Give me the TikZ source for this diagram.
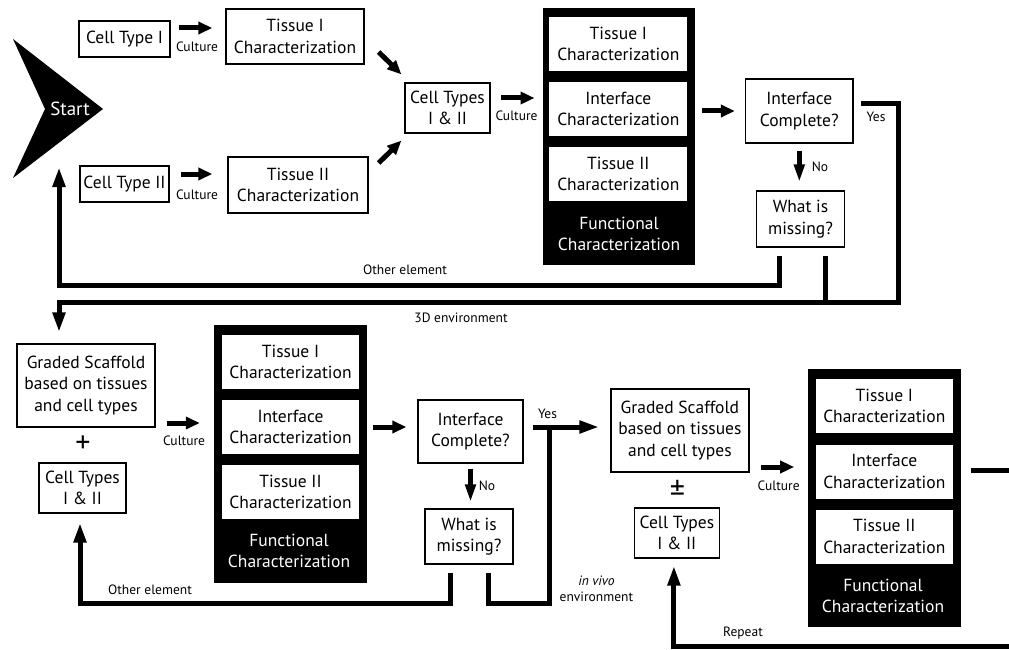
\documentclass[tikz,border=0pt]{standalone}
\usepackage{fontspec}
\setmainfont{PT Sans}
\usetikzlibrary{arrows.meta}
\newcommand\bigtxt{\fontsize{17.5}{21.5}\selectfont}
\newcommand\smtxt{\fontsize{13.5}{16.5}\selectfont}
\tikzset{
  box/.style={draw, line width=1.3pt, fill=white, inner sep=0pt, align=center, font=\bigtxt},
  inbox/.style={fill=white, inner sep=0pt, align=center, font=\bigtxt},
  blk/.style={fill=black, inner sep=0pt},
  ftxt/.style={text=white, align=center, font=\bigtxt},
  lbl/.style={font=\smtxt, inner sep=0pt, align=center},
  conn/.style={line width=5pt},
  sarr/.style={conn, -{Triangle[length=14pt,width=12pt]}},
  darr/.style={conn, -{Triangle[length=18pt,width=10pt]}},
  larr/.style={conn, -{Triangle[length=20pt,width=12pt]}},
}
\begin{document}
\begin{tikzpicture}[x=1pt,y=-1pt]
\useasboundingbox (0,0) rectangle (1009,650);
% Start chevron
\fill (13,39) -- (103,109) -- (13,178) -- (45,109) -- cycle;
\node[ftxt, font=\fontsize{19}{21}\selectfont] (start) at (70,109) {Start};
% Row 1 nodes
\node[box, minimum width=91pt, minimum height=36pt] (ct1) at (124.5,39) {Cell Type I};
\node[box, minimum width=138pt, minimum height=55pt] (t1) at (295,36.5) {Tissue I\\Characterization};
\node[box, minimum width=89pt, minimum height=36pt] (ct2) at (124.5,184) {Cell Type II};
\node[box, minimum width=140pt, minimum height=56pt] (t2) at (298,185) {Tissue II\\Characterization};
\node[box, minimum width=85pt, minimum height=50pt] (ct12) at (447.5,108) {Cell Types\\I \& II};
\node[blk, minimum width=152.6pt, minimum height=257pt] (fb1) at (619,136.5) {};
\node[inbox, minimum width=137.7pt, minimum height=54pt] (fb1a) at (618.3,44) {Tissue I\\Characterization};
\node[inbox, minimum width=137.7pt, minimum height=54pt] (fb1b) at (618.3,109) {Interface\\Characterization};
\node[inbox, minimum width=137.7pt, minimum height=54pt] (fb1c) at (618.3,174) {Tissue II\\Characterization};
\node[ftxt] (fb1d) at (619,234) {Functional\\Characterization};
\node[box, minimum width=107.6pt, minimum height=64pt] (ic1) at (799.3,111) {Interface\\Complete?};
\node[box, minimum width=88.4pt, minimum height=56pt] (wm1) at (800.5,219) {What is\\missing?};
% Row 2 nodes
\node[box, minimum width=138pt, minimum height=83pt] (gs1) at (86,385.5) {Graded Scaffold\\based on tissues\\and cell types};
\node[font=\fontsize{30}{30}\selectfont, inner sep=0pt] (plus) at (83,444) {+};
\node[box, minimum width=87pt, minimum height=50pt] (ct3) at (82.5,488) {Cell Types\\I \& II};
\node[blk, minimum width=153pt, minimum height=258pt] (fb2) at (290.5,454) {};
\node[inbox, minimum width=137pt, minimum height=54pt] (fb2a) at (290.5,362) {Tissue I\\Characterization};
\node[inbox, minimum width=137pt, minimum height=54pt] (fb2b) at (290.5,427) {Interface\\Characterization};
\node[inbox, minimum width=137pt, minimum height=54pt] (fb2c) at (290.5,492) {Tissue II\\Characterization};
\node[ftxt] (fb2d) at (289,551) {Functional\\Characterization};
\node[box, minimum width=105pt, minimum height=63pt] (ic2) at (470.5,431.5) {Interface\\Complete?};
\node[box, minimum width=88pt, minimum height=55pt] (wm2) at (469,536.5) {What is\\missing?};
\node[box, minimum width=138pt, minimum height=83pt] (gs2) at (679.9,430.5) {Graded Scaffold\\based on tissues\\and cell types};
\node[font=\fontsize{30}{30}\selectfont, inner sep=0pt] (pm) at (677.4,490) {±};
\node[box, minimum width=85.3pt, minimum height=50pt] (ct4) at (676.9,533) {Cell Types\\I \& II};
\node[blk, minimum width=153pt, minimum height=258pt] (fb3) at (884.9,498) {};
\node[inbox, minimum width=137.3pt, minimum height=54pt] (fb3a) at (884.3,406) {Tissue I\\Characterization};
\node[inbox, minimum width=137.3pt, minimum height=54pt] (fb3b) at (884.3,471.5) {Interface\\Characterization};
\node[inbox, minimum width=137.3pt, minimum height=54pt] (fb3c) at (884.3,536.5) {Tissue II\\Characterization};
\node[ftxt] (fb3d) at (883,596) {Functional\\Characterization};
% Row 1 connectors
\draw[sarr] ([xshift=8pt,yshift=11pt]ct1.east) -- ([xshift=-13pt,yshift=8.5pt]t1.west);
\node[lbl] (cl1) at (197,47) {Culture};
\draw[sarr] ([xshift=11pt,yshift=10pt]ct2.east) -- ([xshift=-15pt,yshift=11pt]t2.west);
\node[lbl] (cl2) at (197,195) {Culture};
\draw[sarr] ([xshift=14pt,yshift=-15.5pt]t1.east) -- ([xshift=-3pt,yshift=8pt]ct12.north west);
\draw[sarr] ([xshift=10pt,yshift=22pt]t2.east) -- ([xshift=-3pt,yshift=-7pt]ct12.south west);
\draw[sarr] ([xshift=10.5pt,yshift=10pt]ct12.east) -- ([xshift=-8pt,yshift=10pt]ct12.east -| fb1.west);
\node[lbl] (cl3) at (516.5,116) {Culture};
\draw[sarr] ([xshift=6pt,yshift=25.5pt]fb1.east) -- ([xshift=-10pt]ic1.west);
\draw[darr] ([yshift=-7pt]ic1.south) -- ([yshift=8pt]ic1.south |- wm1.north);
\node[lbl] (no1) at (820,167) {No};
\draw[larr] ([xshift=7pt,yshift=7pt]ic1.east) -| (898,302) -| ([xshift=-27pt,yshift=11pt]gs1.north);
\node[lbl] (yes1) at (876,117) {Yes};
\draw[conn] ([xshift=25.3pt,yshift=-8pt]wm1.south) -- (825.8,302);
\draw[larr] ([xshift=-21pt,yshift=-8pt]wm1.south) |- (59,285) -- (59,167);
\node[lbl] (oe1) at (405,270) {Other element};
\node[lbl] (env1) at (461,318) {3D environment};
% Row 2 connectors
\draw[sarr] ([xshift=11pt,yshift=-37.5pt]gs1.east) -- ([xshift=-14pt,yshift=31pt]fb2.west);
\node[lbl] (cl4) at (184,441) {Culture};
\draw[sarr] ([xshift=6pt,yshift=27pt]fb2.east) -- ([xshift=-11pt,yshift=4.5pt]ic2.west);
\draw[darr] ([yshift=-5pt]ic2.south) -- ([yshift=6pt]ic2.south |- wm2.north);
\node[lbl] (no2) at (487,486) {No};
\draw[larr] ([xshift=-19pt,yshift=-8pt]wm2.south) |- (80,603) -- ([xshift=-2.5pt,yshift=-9pt]ct3.south);
\node[lbl] (oe2) at (150,590) {Other element};
\draw[conn] ([xshift=19pt,yshift=-8pt]wm2.south) |- (549,603) -- (549,427);
\draw[larr] ([xshift=9.3pt,yshift=4.5pt]ic2.east) -- ([xshift=-11pt,yshift=3.5pt]gs2.west);
\node[lbl] (yes2) at (547.5,414) {Yes};
\node[lbl] (env2) at (596.4,589) {\textit{in vivo}\\environment};
\draw[sarr] ([xshift=11pt,yshift=-36.5pt]gs2.east) -- ([xshift=-14pt,yshift=31pt]fb3.west);
\node[lbl] (cl5) at (778.6,486) {Culture};
\coordinate (rgt) at (1009,470);
\draw[conn] ([xshift=9.6pt,yshift=28pt]fb3.east) -- (rgt);
\coordinate (rep) at (1009,646);
\draw[larr] (rep) -| ([xshift=-3pt,yshift=-7pt]ct4.south);
\node[lbl] (rp) at (743,633) {Repeat};
\end{tikzpicture}
\end{document}
